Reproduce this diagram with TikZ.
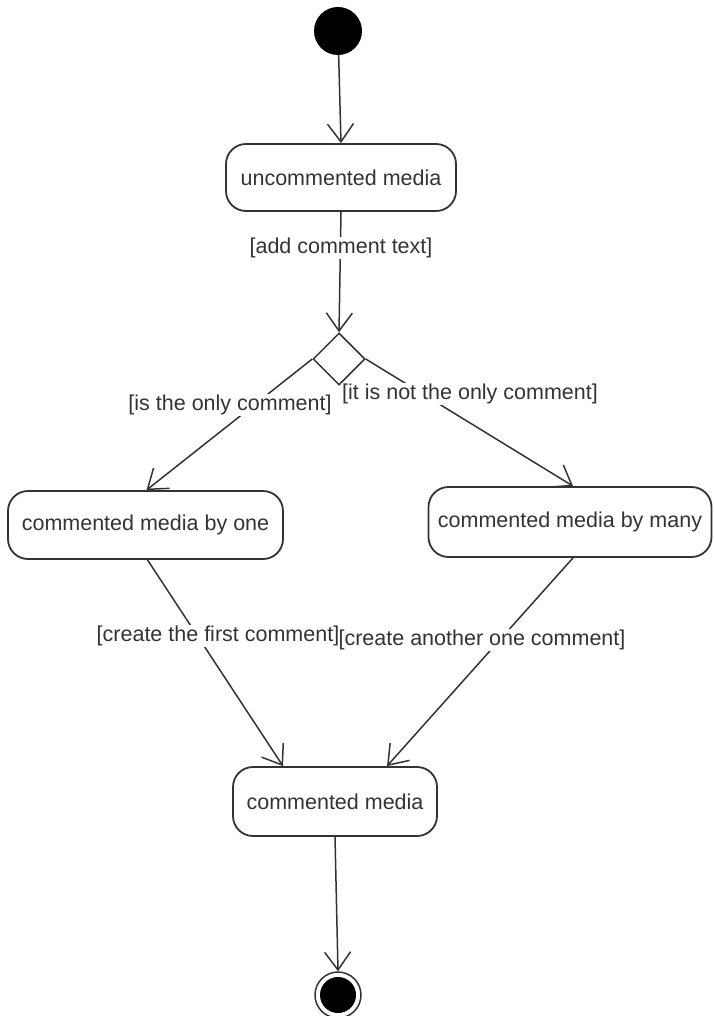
\documentclass[tikz,border=0pt]{standalone}
\usepackage{fontspec}
\setmainfont{Liberation Sans}
\usetikzlibrary{arrows.meta,shapes.geometric,calc}
\definecolor{ink}{HTML}{333333}
\begin{document}
\begin{tikzpicture}[x=1pt,y=-1pt,
  font=\fontsize{21.5}{25}\selectfont,
  state/.style={draw=ink,line width=1.8pt,rounded corners=20pt,inner sep=0pt,text=ink},
  guard/.style={fill=white,inner sep=1pt,text=ink},
  flow/.style={draw=ink,line width=1.5pt,-{Straight Barb[length=18pt,width=26pt,line width=1.5pt]}}]
\useasboundingbox (0,0) rectangle (713,1016);
% start and end points
\node (start) [circle,fill=black,minimum size=48pt,inner sep=0pt] at (338,31) {};
\node (stop) [circle,draw=ink,line width=1.5pt,fill=white,minimum size=46pt,inner sep=0pt] at (338,995) {};
\node (stopin) [circle,fill=black,minimum size=36pt,inner sep=0pt] at (338,995) {};
% states
\node (unc) [state,minimum width=230pt,minimum height=67pt] at (341,177.5) {uncommented media};
\node (one) [state,minimum width=275pt,minimum height=68pt] at (145.5,525) {commented media by one};
\node (many) [state,minimum width=283pt,minimum height=70pt] at (570,522) {commented media by many};
\node (cm) [state,minimum width=204pt,minimum height=69pt] at (335,801.5) {commented media};
% decision
\node (dec) [diamond,draw=ink,line width=1.5pt,minimum width=52pt,minimum height=52pt,inner sep=0pt] at (339,359) {};
% transitions
\draw[flow] (start) -- (unc.north);
\draw[flow] (unc.south) -- (dec.north);
\draw[flow] (dec.west) -- ([xshift=1pt]one.north);
\draw[flow] (dec.east) -- ([xshift=3pt]many.north);
\draw[flow] ([xshift=2pt]one.south) -- ([xshift=-52pt]cm.north);
\draw[flow] ([xshift=3pt]many.south) -- ([xshift=52pt]cm.north);
\draw[flow] (cm.south) -- (stop.north);
% guards
\node (g1) [guard] at (341,248) {[add comment text]};
\node (g2) [guard] at (230,405) {[is the only comment]};
\node (g3) [guard] at (470,394) {[it is not the only comment]};
\node (g4) [guard] at (218,636) {[create the first comment]};
\node (g5) [guard] at (482,640) {[create another one comment]};
\end{tikzpicture}
\end{document}
